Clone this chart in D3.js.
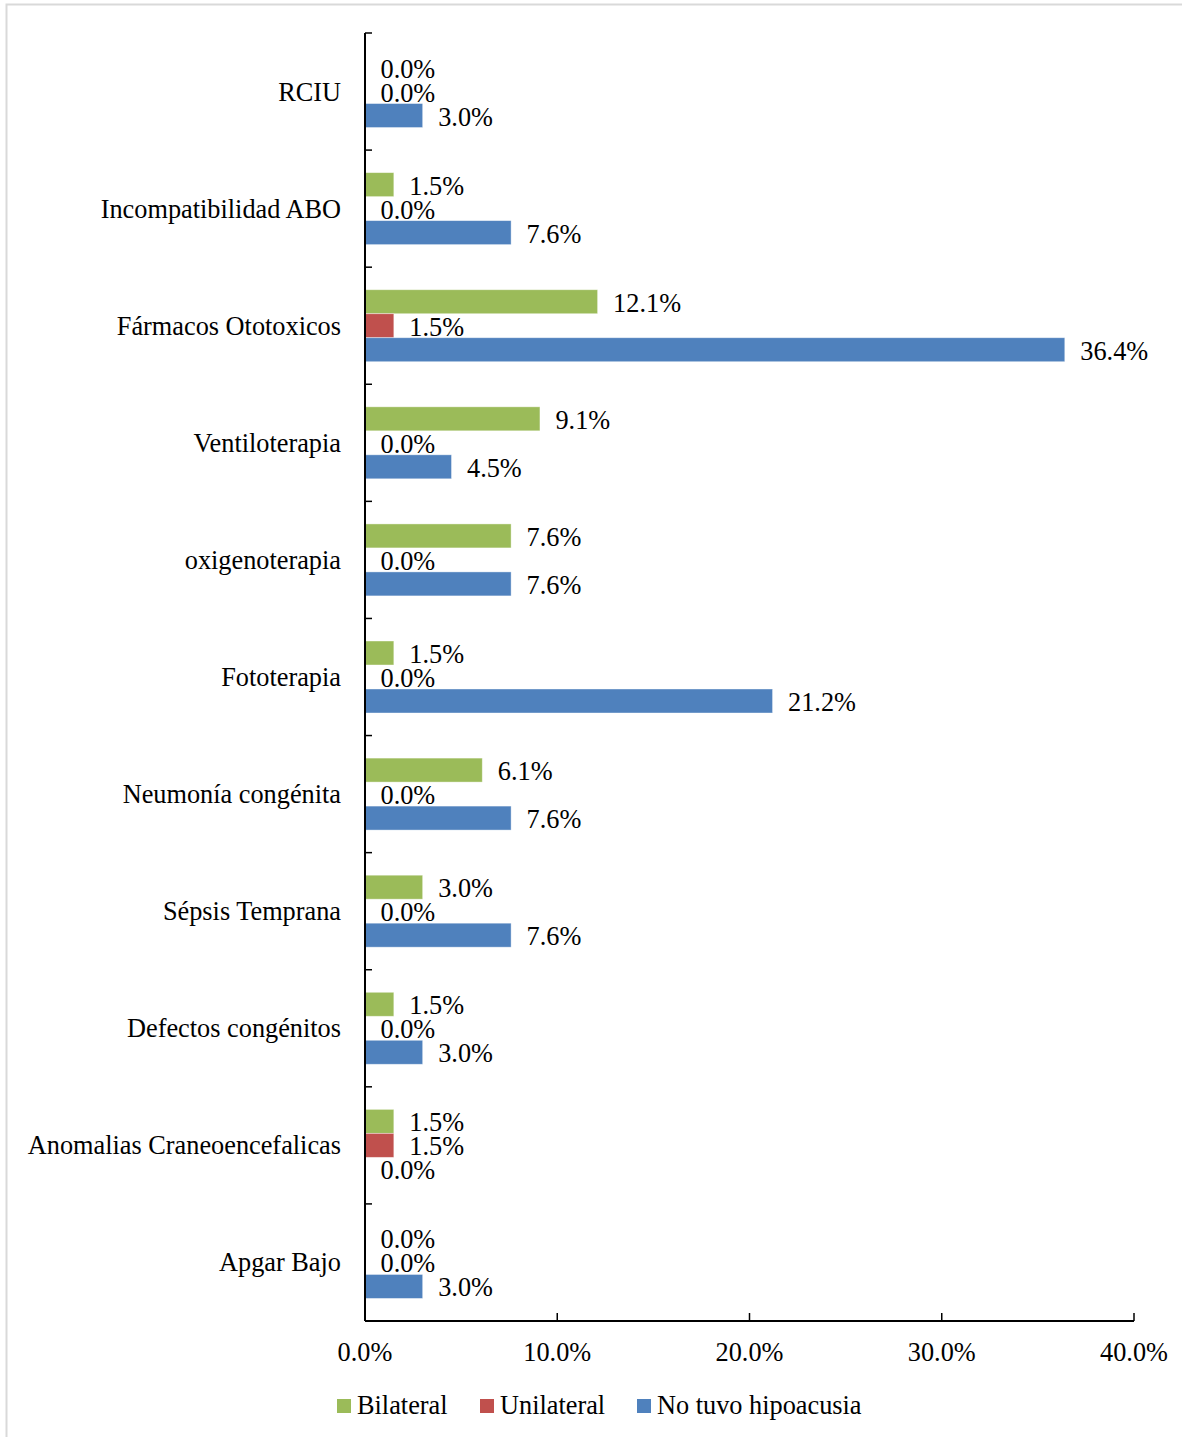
<!DOCTYPE html>
<html><head><meta charset="utf-8">
<script src="https://cdn.jsdelivr.net/npm/d3@7"></script>
<style>
html,body{margin:0;padding:0;background:#fff;}
svg{display:block;font-family:"Liberation Serif","Times New Roman",serif;}
</style></head>
<body>
<script>
const categories = ["RCIU","Incompatibilidad ABO","Fármacos Ototoxicos","Ventiloterapia","oxigenoterapia","Fototerapia","Neumonía congénita","Sépsis Temprana","Defectos congénitos","Anomalias Craneoencefalicas","Apgar Bajo"];
const seriesNames = ["Bilateral","Unilateral","No tuvo hipoacusia"];
const seriesColors = ["#9BBB59","#C0504D","#4F81BD"];
const bilateral  = [0.0, 1.5, 12.1, 9.1, 7.6, 1.5, 6.1, 3.0, 1.5, 1.5, 0.0];
const unilateral = [0.0, 0.0, 1.5, 0.0, 0.0, 0.0, 0.0, 0.0, 0.0, 1.5, 0.0];
const noTuvo     = [3.0, 7.6, 36.4, 4.5, 7.6, 21.2, 7.6, 7.6, 3.0, 0.0, 3.0];
const xTicks = [0, 10, 20, 30, 40];

const W = 1182, H = 1437;
const FS = 26.3;
const svg = d3.select("body").append("svg").attr("width", W).attr("height", H);

// outer frame
svg.append("rect").attr("x", 6.5).attr("y", 4.5).attr("width", W + 10).attr("height", H + 10)
  .attr("fill", "none").attr("stroke", "#d9d9d9").attr("stroke-width", 2);

const pLeft = 365, pRight = 1134, pTop = 33, pBottom = 1321;
const x = d3.scaleLinear().domain([0, 40]).range([pLeft, pRight]);
const y0 = d3.scaleBand().domain(categories).range([pTop, pBottom]).padding(0);
const y1 = d3.scaleBand().domain(seriesNames).range([0, y0.bandwidth()]).paddingInner(0).paddingOuter(0.94);

const seriesData = [bilateral, unilateral, noTuvo];
const rows = categories.map((c, i) => ({cat: c, vals: seriesNames.map((s, j) => ({s, j, v: seriesData[j][i]}))}));

const g = svg.append("g");
const groups = g.selectAll("g.cat").data(rows).join("g")
  .attr("transform", d => `translate(0,${y0(d.cat)})`);

groups.selectAll("rect").data(d => d.vals.filter(e => e.v > 0)).join("rect")
  .attr("x", x(0))
  .attr("y", e => y1(e.s))
  .attr("width", e => x(e.v) - x(0))
  .attr("height", y1.bandwidth())
  .attr("fill", e => seriesColors[e.j])
  .attr("stroke", "#ffffff").attr("stroke-opacity", 0.5).attr("stroke-width", 0.8);

groups.selectAll("text.val").data(d => d.vals).join("text")
  .attr("class", "val")
  .attr("x", e => x(e.v) + 15.5)
  .attr("y", e => y1(e.s) + y1.bandwidth() / 2 + 10)
  .attr("font-size", FS)
  .attr("fill", "#000")
  .text(e => e.v.toFixed(1) + "%");

// Y axis (ticks inside, to the right)
const yAxisG = svg.append("g").attr("transform", `translate(${pLeft},0)`);
yAxisG.append("line").attr("x1", 0).attr("x2", 0).attr("y1", pTop).attr("y2", pBottom)
  .attr("stroke", "#000").attr("stroke-width", 2);
const yTickPos = categories.map(c => y0(c)).concat([pBottom]);
yAxisG.selectAll("line.t").data(yTickPos).join("line").attr("class", "t")
  .attr("x1", 0).attr("x2", 7).attr("y1", d => d).attr("y2", d => d)
  .attr("stroke", "#000").attr("stroke-width", 1.5);
yAxisG.selectAll("text").data(categories).join("text")
  .attr("x", -24).attr("y", c => y0(c) + y0.bandwidth() / 2 + 9)
  .attr("text-anchor", "end").attr("font-size", FS).attr("fill", "#000")
  .text(c => c);

// X axis (ticks inside, upward)
const xAxisG = svg.append("g");
xAxisG.append("line").attr("x1", pLeft).attr("x2", pRight).attr("y1", pBottom).attr("y2", pBottom)
  .attr("stroke", "#000").attr("stroke-width", 2);
xAxisG.selectAll("line.t").data(xTicks).join("line").attr("class", "t")
  .attr("x1", d => x(d)).attr("x2", d => x(d)).attr("y1", pBottom).attr("y2", pBottom - 8)
  .attr("stroke", "#000").attr("stroke-width", 1.5);
xAxisG.selectAll("text").data(xTicks).join("text")
  .attr("x", d => x(d)).attr("y", 1361)
  .attr("text-anchor", "middle").attr("font-size", FS).attr("fill", "#000")
  .text(d => d.toFixed(1) + "%");

// Legend
const legendX = [337, 480, 637];
const lg = svg.append("g");
seriesNames.forEach((s, j) => {
  lg.append("rect").attr("x", legendX[j]).attr("y", 1399).attr("width", 14).attr("height", 14)
    .attr("fill", seriesColors[j]);
  lg.append("text").attr("x", legendX[j] + 20).attr("y", 1414)
    .attr("font-size", FS).attr("fill", "#000").text(s);
});
</script>
</body></html>
